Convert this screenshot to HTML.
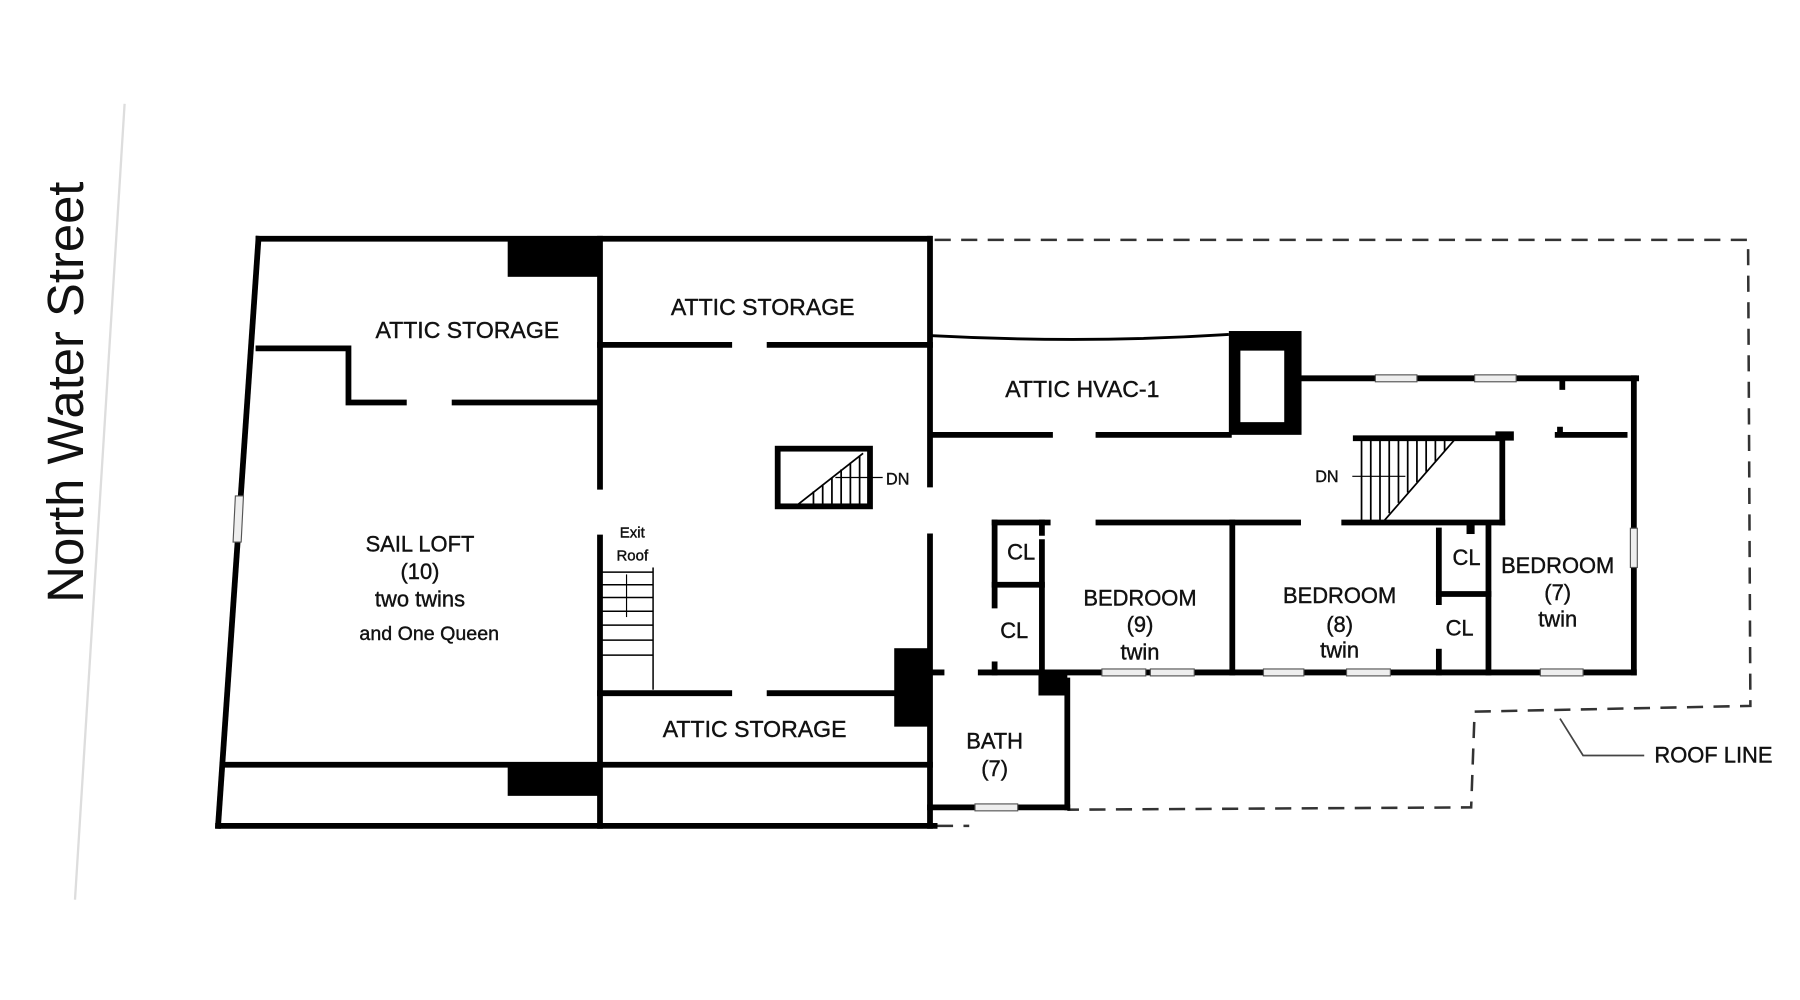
<!DOCTYPE html>
<html><head><meta charset="utf-8"><style>
html,body{margin:0;padding:0;background:#fff;}
svg{display:block;}
text{font-family:"Liberation Sans",sans-serif;fill:#111;text-anchor:middle;}
.lb text{stroke:#111;stroke-width:0.35px;}
</style></head><body>
<svg width="1800" height="1000" viewBox="0 0 1560 867" preserveAspectRatio="none" xmlns="http://www.w3.org/2000/svg">
<rect width="1560" height="867" fill="#fff"/>
<line x1="108" y1="90" x2="65" y2="780" stroke="#ddd" stroke-width="2"/>
<text transform="translate(72,340) rotate(-90)" font-size="44">North Water Street</text>

<g fill="none" stroke="#333" stroke-width="2.2" stroke-dasharray="14,9">
<polyline points="810,208 1515,208 1517,612 1278,617 1275,700 925,702"/>
<line x1="812" y1="716" x2="840" y2="716"/>
</g>
<polyline points="1352,623 1372,655 1425,655" fill="none" stroke="#444" stroke-width="1.5"/>

<g stroke="#000" stroke-width="5" fill="none" stroke-linecap="square">
<line x1="224" y1="207" x2="805" y2="207"/>
<line x1="224" y1="207" x2="189" y2="716"/>
<line x1="189" y1="716" x2="810" y2="716"/>
<line x1="806" y1="207" x2="806" y2="420"/>
<line x1="806" y1="465" x2="806" y2="716"/>
<line x1="520" y1="207" x2="520" y2="422"/>
<line x1="520" y1="466" x2="520" y2="716"/>
<polyline points="224,302 302,302 302,349 350,349"/>
<line x1="394" y1="349" x2="518" y2="349"/>
<line x1="520" y1="299" x2="632" y2="299"/>
<line x1="667" y1="299" x2="806" y2="299"/>
<line x1="520" y1="601" x2="632" y2="601"/>
<line x1="667" y1="601" x2="780" y2="601"/>
<line x1="193" y1="663" x2="806" y2="663"/>
<line x1="810" y1="377" x2="910" y2="377"/>
<line x1="952" y1="377" x2="1065" y2="377"/>
<line x1="1128" y1="328" x2="1418" y2="328"/>
<line x1="1416" y1="328" x2="1416" y2="583"/>
<line x1="850" y1="583" x2="1416" y2="583"/>
<line x1="806" y1="583" x2="816" y2="583"/>
<line x1="862" y1="453" x2="908" y2="453"/>
<line x1="952" y1="453" x2="1125" y2="453"/>
<line x1="1165" y1="453" x2="1302" y2="453"/>
<line x1="1175" y1="380" x2="1300" y2="380"/>
<line x1="1302" y1="378" x2="1302" y2="453"/>
<line x1="1350" y1="377" x2="1408" y2="377"/>
<line x1="1068" y1="453" x2="1068" y2="583"/>
<line x1="1247" y1="460" x2="1247" y2="522"/>
<line x1="1247" y1="565" x2="1247" y2="583"/>
<line x1="1247" y1="515" x2="1290" y2="515"/>
<line x1="1290" y1="455" x2="1290" y2="583"/>
<line x1="862" y1="453" x2="862" y2="525"/>
<line x1="862" y1="576" x2="862" y2="583"/>
<line x1="862" y1="507" x2="903" y2="507"/>
<line x1="903" y1="470" x2="903" y2="583"/>
<line x1="903" y1="453" x2="903" y2="462"/>
<line x1="925" y1="590" x2="925" y2="700"/>
<line x1="806" y1="700" x2="925" y2="700"/>
<rect x="674" y="389" width="80" height="50"/>
</g>
<line x1="1354" y1="329" x2="1354" y2="338" stroke="#000" stroke-width="5"/>
<line x1="1352" y1="370" x2="1352" y2="378" stroke="#000" stroke-width="5"/>
<rect x="1296" y="374" width="16" height="8" fill="#000"/>
<rect x="1271" y="453" width="7" height="10" fill="#000"/>
<path d="M808,291 Q940,298 1065,290" stroke="#000" stroke-width="2.5" fill="none"/>
<rect x="440" y="207" width="80" height="33" fill="#000"/>
<rect x="440" y="663" width="80" height="27" fill="#000"/>
<rect x="775" y="562" width="33" height="68" fill="#000"/>
<rect x="1065" y="287" width="63" height="90" fill="#000"/>
<rect x="1075" y="304" width="38" height="62" fill="#fff"/>
<rect x="900" y="583" width="25" height="20" fill="#000"/>
<g fill="#eee" stroke="#555" stroke-width="1">
<rect x="1192" y="325" width="36" height="6"/>
<rect x="1278" y="325" width="36" height="6"/>
<rect x="1413" y="458" width="6" height="34"/>
<rect x="955" y="580" width="38" height="6"/>
<rect x="997" y="580" width="38" height="6"/>
<rect x="1095" y="580" width="35" height="6"/>
<rect x="1167" y="580" width="38" height="6"/>
<rect x="1335" y="580" width="37" height="6"/>
<rect x="845" y="697" width="37" height="6"/>
<polygon points="204,430 211,430 209,470 202,470"/>
</g>
<g stroke="#000" stroke-width="1.5">
<line x1="692" y1="437" x2="748" y2="393"/>
<line x1="705" y1="426" x2="705" y2="437"/><line x1="713" y1="420" x2="713" y2="437"/>
<line x1="721" y1="414" x2="721" y2="437"/><line x1="729" y1="407" x2="729" y2="437"/>
<line x1="737" y1="401" x2="737" y2="437"/><line x1="745" y1="395" x2="745" y2="437"/>
<line x1="724" y1="414" x2="765" y2="414" stroke-width="1"/>
</g>
<g stroke="#000" stroke-width="1.5">
<line x1="1200" y1="451" x2="1260" y2="382"/>
<line x1="1180" y1="382" x2="1180" y2="451"/><line x1="1188" y1="382" x2="1188" y2="451"/>
<line x1="1196" y1="382" x2="1196" y2="451"/><line x1="1204" y1="382" x2="1204" y2="445"/>
<line x1="1212" y1="382" x2="1212" y2="436"/><line x1="1220" y1="382" x2="1220" y2="427"/>
<line x1="1228" y1="382" x2="1228" y2="418"/><line x1="1236" y1="382" x2="1236" y2="409"/>
<line x1="1244" y1="382" x2="1244" y2="400"/><line x1="1252" y1="382" x2="1252" y2="391"/>
<line x1="1172" y1="413" x2="1218" y2="413" stroke-width="1"/>
</g>
<g stroke="#000" stroke-width="1.3">
<line x1="566" y1="492" x2="566" y2="598"/>
<line x1="522" y1="496" x2="566" y2="496"/><line x1="522" y1="507" x2="566" y2="507"/>
<line x1="522" y1="518" x2="566" y2="518"/><line x1="522" y1="530" x2="566" y2="530"/>
<line x1="522" y1="542" x2="566" y2="542"/><line x1="522" y1="555" x2="566" y2="555"/>
<line x1="522" y1="568" x2="566" y2="568"/>
<line x1="543" y1="498" x2="543" y2="535" stroke-width="1"/>
</g>
<g class="lb">
<text x="778" y="420" font-size="14">DN</text>
<text x="1150" y="418" font-size="14">DN</text>
<text x="548" y="466" font-size="13">Exit</text>
<text x="548" y="486" font-size="13">Roof</text>
<text x="1485" y="661" font-size="19">ROOF LINE</text>
</g>
<g class="lb" font-size="20">
<text x="405" y="293">ATTIC STORAGE</text>
<text x="661" y="273">ATTIC STORAGE</text>
<text x="938" y="344">ATTIC HVAC-1</text>
<text x="654" y="639">ATTIC STORAGE</text>
<text x="364" y="478" font-size="19">SAIL LOFT</text>
<text x="364" y="502" font-size="19">(10)</text>
<text x="364" y="526" font-size="19">two twins</text>
<text x="372" y="555" font-size="17">and One Queen</text>
<text x="862" y="649" font-size="19">BATH</text>
<text x="862" y="673" font-size="19">(7)</text>
<text x="885" y="485" font-size="19">CL</text>
<text x="879" y="553" font-size="19">CL</text>
<text x="1271" y="490" font-size="19">CL</text>
<text x="1265" y="551" font-size="19">CL</text>
<text x="988" y="525" font-size="19">BEDROOM</text>
<text x="988" y="548" font-size="19">(9)</text>
<text x="988" y="572" font-size="19">twin</text>
<text x="1161" y="523" font-size="19">BEDROOM</text>
<text x="1161" y="548" font-size="19">(8)</text>
<text x="1161" y="570" font-size="19">twin</text>
<text x="1350" y="497" font-size="19">BEDROOM</text>
<text x="1350" y="520" font-size="19">(7)</text>
<text x="1350" y="543" font-size="19">twin</text>
</g>
</svg>
</body></html>
